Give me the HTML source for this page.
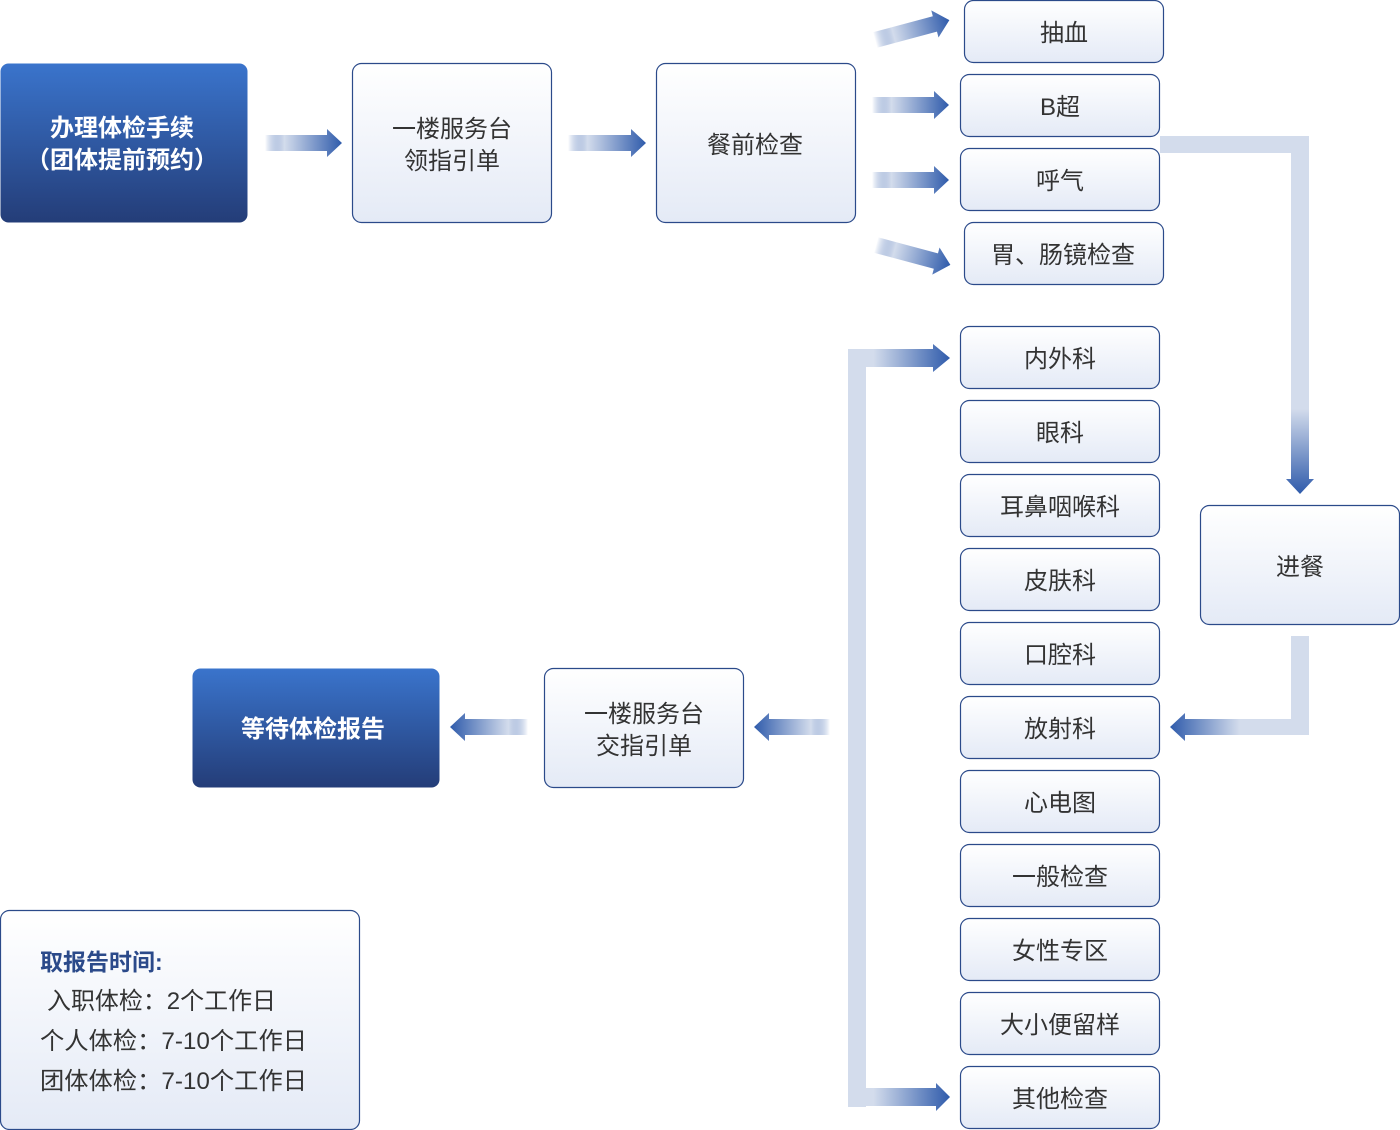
<!DOCTYPE html>
<html><head><meta charset="utf-8"><style>
html,body{margin:0;padding:0;background:#fff;}
svg{display:block;}
text{font-family:"Liberation Sans","Noto Sans CJK SC",sans-serif;}
</style></head><body>
<svg width="1400" height="1130" viewBox="0 0 1400 1130" xmlns="http://www.w3.org/2000/svg">
<defs>
<linearGradient id="box" x1="0" y1="0" x2="0" y2="1"><stop offset="0" stop-color="#ffffff"/><stop offset="1" stop-color="#e4eaf6"/></linearGradient>
<linearGradient id="dark" x1="0" y1="0" x2="0" y2="1"><stop offset="0" stop-color="#3a74cc"/><stop offset="1" stop-color="#243d78"/></linearGradient>
<linearGradient id="ar" x1="0" y1="0" x2="1" y2="0"><stop offset="0" stop-color="#2f5bab" stop-opacity="0"/><stop offset="0.25" stop-color="#d3dcec"/><stop offset="1" stop-color="#2f5bab"/></linearGradient>
<linearGradient id="al" x1="1" y1="0" x2="0" y2="0"><stop offset="0" stop-color="#2f5bab" stop-opacity="0"/><stop offset="0.25" stop-color="#d3dcec"/><stop offset="1" stop-color="#2f5bab"/></linearGradient>
<linearGradient id="br" x1="0" y1="0" x2="1" y2="0"><stop offset="0" stop-color="#d3dcec"/><stop offset="0.25" stop-color="#d3dcec"/><stop offset="1" stop-color="#2f5bab"/></linearGradient>
<linearGradient id="bl" x1="1" y1="0" x2="0" y2="0"><stop offset="0" stop-color="#d3dcec"/><stop offset="0.5" stop-color="#d3dcec"/><stop offset="1" stop-color="#2f5bab"/></linearGradient>
<linearGradient id="bd" x1="0" y1="0" x2="0" y2="1"><stop offset="0" stop-color="#d3dcec"/><stop offset="0.75" stop-color="#d3dcec"/><stop offset="1" stop-color="#2f5bab"/></linearGradient>
</defs>

<rect x="1160" y="136" width="149" height="17" fill="#d3dcec"/>
<path d="M1291 153 H1309 V479 H1314 L1300 494 L1286 479 H1291 Z" fill="url(#bd)"/>
<path d="M1291 636 H1309 V735 H1185 V741 L1170 727 L1185 713 V719 H1291 Z" fill="url(#bl)"/>
<rect x="848" y="349" width="18" height="758" fill="#d3dcec"/>
<path d="M848 349 H933 V344 L950 358 L933 372 V367 H848 Z" fill="url(#br)"/>
<path d="M848 1088 H936 V1083 L950 1097 L936 1111 V1106 H848 Z" fill="url(#br)"/>

<g fill="url(#ar)">
<path d="M265 135 H327 V129 L342 143 L327 157 V151 H265 Z"/>
<path d="M568 135 H631 V129 L646 143 L631 157 V151 H568 Z"/>
<path d="M872 97 H934 V91 L949 105 L934 119 V113 H872 Z"/>
<path d="M872 172 H934 V166 L949 180 L934 194 V188 H872 Z"/>
<g transform="translate(875,40) rotate(-15)"><path d="M0 -8 H62 V-14 L77 0 L62 14 V8 H0 Z"/></g>
<g transform="translate(876,245) rotate(15)"><path d="M0 -8 H62 V-14 L77 0 L62 14 V8 H0 Z"/></g>
</g>
<g fill="url(#al)">
<path d="M830 719 H769 V713 L754 727 L769 741 V735 H830 Z"/>
<path d="M528 719 H465 V713 L450 727 L465 741 V735 H528 Z"/>
</g>

<rect x="0.5" y="63.5" width="247" height="159" rx="8" fill="url(#dark)"/>
<text x="122" y="136" text-anchor="middle" font-size="24" font-weight="bold" fill="#fff">办理体检手续</text>
<text x="122" y="168" text-anchor="middle" font-size="24" font-weight="bold" fill="#fff">（团体提前预约）</text>
<rect x="192.5" y="668.5" width="247" height="119" rx="8" fill="url(#dark)"/>
<text x="313" y="737" text-anchor="middle" font-size="24" font-weight="bold" fill="#fff">等待体检报告</text>

<g fill="url(#box)" stroke="#2b4a8a" stroke-width="1.2">
<rect x="352.5" y="63.5" width="199" height="159" rx="9"/>
<rect x="656.5" y="63.5" width="199" height="159" rx="9"/>
<rect x="964.5" y="0.5" width="199" height="62" rx="9"/>
<rect x="960.5" y="74.5" width="199" height="62" rx="9"/>
<rect x="960.5" y="148.5" width="199" height="62" rx="9"/>
<rect x="964.5" y="222.5" width="199" height="62" rx="9"/>
<rect x="960.5" y="326.5" width="199" height="62" rx="9"/>
<rect x="960.5" y="400.5" width="199" height="62" rx="9"/>
<rect x="960.5" y="474.5" width="199" height="62" rx="9"/>
<rect x="960.5" y="548.5" width="199" height="62" rx="9"/>
<rect x="960.5" y="622.5" width="199" height="62" rx="9"/>
<rect x="960.5" y="696.5" width="199" height="62" rx="9"/>
<rect x="960.5" y="770.5" width="199" height="62" rx="9"/>
<rect x="960.5" y="844.5" width="199" height="62" rx="9"/>
<rect x="960.5" y="918.5" width="199" height="62" rx="9"/>
<rect x="960.5" y="992.5" width="199" height="62" rx="9"/>
<rect x="960.5" y="1066.5" width="199" height="62" rx="9"/>
<rect x="1200.5" y="505.5" width="199" height="119" rx="9"/>
<rect x="544.5" y="668.5" width="199" height="119" rx="9"/>
<rect x="0.5" y="910.5" width="359" height="219" rx="9"/>
</g>

<g font-size="24" fill="#333" text-anchor="middle">
<text x="452" y="137">一楼服务台</text>
<text x="452" y="169">领指引单</text>
<text x="755" y="153">餐前检查</text>
<text x="1064" y="41">抽血</text>
<text x="1060" y="115">B超</text>
<text x="1060" y="189">呼气</text>
<text x="1063" y="263">胃、肠镜检查</text>
<text x="1060" y="367">内外科</text>
<text x="1060" y="441">眼科</text>
<text x="1060" y="515">耳鼻咽喉科</text>
<text x="1060" y="589">皮肤科</text>
<text x="1060" y="663">口腔科</text>
<text x="1060" y="737">放射科</text>
<text x="1060" y="811">心电图</text>
<text x="1060" y="885">一般检查</text>
<text x="1060" y="959">女性专区</text>
<text x="1060" y="1033">大小便留样</text>
<text x="1060" y="1107">其他检查</text>
<text x="1300" y="575">进餐</text>
<text x="644" y="722">一楼服务台</text>
<text x="644" y="754">交指引单</text>
</g>
<text x="40" y="970" font-size="23" font-weight="bold" fill="#2b4a8a">取报告时间:</text>
<g font-size="24" fill="#333">
<text x="47" y="1009" textLength="229" lengthAdjust="spacingAndGlyphs">入职体检：2个工作日</text>
<text x="40" y="1049" textLength="267" lengthAdjust="spacingAndGlyphs">个人体检：7-10个工作日</text>
<text x="40" y="1089" textLength="267" lengthAdjust="spacingAndGlyphs">团体体检：7-10个工作日</text>
</g>
</svg>
</body></html>
